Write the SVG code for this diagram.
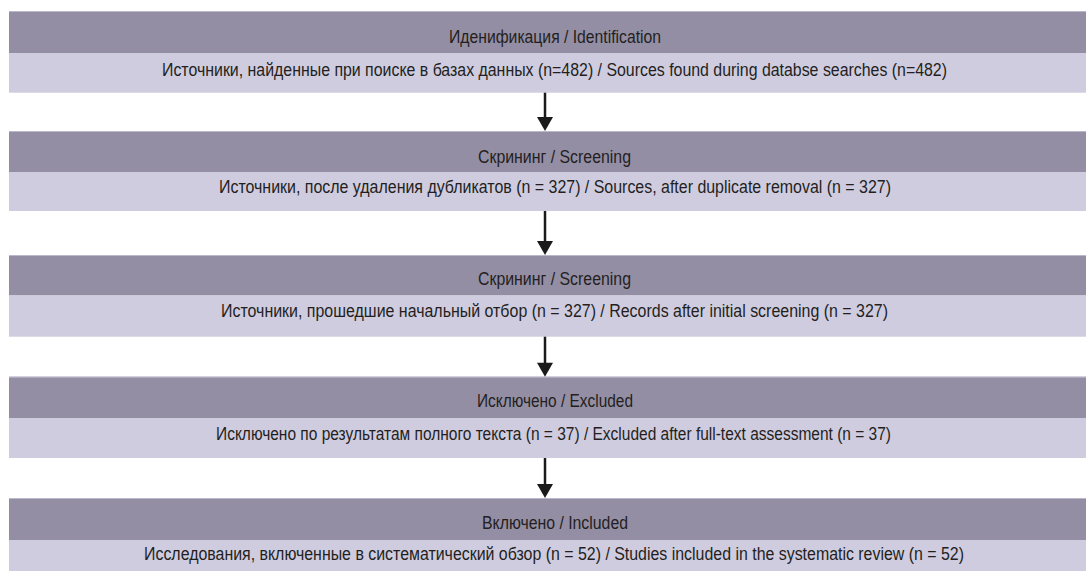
<svg xmlns="http://www.w3.org/2000/svg" width="1086" height="571" viewBox="0 0 1086 571">
<style>
.hd{fill:#948ea5}
.bd{fill:#d0cce0}
.edge{stroke:#bcb8cb;stroke-width:1}
text{font-family:"Liberation Sans",Arial,sans-serif;font-size:17.5px;fill:#231f20;text-anchor:middle}
.conn line{stroke:#1a1a1a;stroke-width:2.5}
.conn polygon{fill:#1a1a1a}
</style>
<rect width="1086" height="571" fill="#ffffff"/>
<g id="node1">
<rect class="hd" x="9" y="11" width="1077" height="42"/>
<line class="edge" x1="9" y1="11.5" x2="1086" y2="11.5"/>
<rect class="bd" x="9" y="53" width="1077" height="39.7"/>
<text x="555" y="42.5" textLength="212" lengthAdjust="spacingAndGlyphs">Иденификация / Identification</text>
<text x="554.5" y="76" textLength="785" lengthAdjust="spacingAndGlyphs">Источники, найденные при поиске в базах данных (n=482) / Sources found during databse searches (n=482)</text>
</g>
<g id="node2">
<rect class="hd" x="9" y="131" width="1077" height="41"/>
<line class="edge" x1="9" y1="131.5" x2="1086" y2="131.5"/>
<rect class="bd" x="9" y="172" width="1077" height="39"/>
<text x="554.5" y="162.5" textLength="153" lengthAdjust="spacingAndGlyphs">Скрининг / Screening</text>
<text x="555" y="193" textLength="672" lengthAdjust="spacingAndGlyphs">Источники, после удаления дубликатов (n = 327) / Sources, after duplicate removal (n = 327)</text>
</g>
<g id="node3">
<rect class="hd" x="9" y="255" width="1077" height="40.5"/>
<line class="edge" x1="9" y1="255.5" x2="1086" y2="255.5"/>
<rect class="bd" x="9" y="295.5" width="1077" height="41.2"/>
<text x="554.5" y="285" textLength="153" lengthAdjust="spacingAndGlyphs">Скрининг / Screening</text>
<text x="554.5" y="316.5" textLength="667" lengthAdjust="spacingAndGlyphs">Источники, прошедшие начальный отбор (n = 327) / Records after initial screening (n = 327)</text>
</g>
<g id="node4">
<rect class="hd" x="9" y="376.7" width="1077" height="41.3"/>
<line class="edge" x1="9" y1="377.2" x2="1086" y2="377.2"/>
<rect class="bd" x="9" y="418" width="1077" height="40"/>
<text x="555" y="407" textLength="156" lengthAdjust="spacingAndGlyphs">Исключено / Excluded</text>
<text x="553.5" y="439.5" textLength="675" lengthAdjust="spacingAndGlyphs">Исключено по результатам полного текста (n = 37) / Excluded after full-text assessment (n = 37)</text>
</g>
<g id="node5">
<rect class="hd" x="9" y="498" width="1077" height="42"/>
<line class="edge" x1="9" y1="498.5" x2="1086" y2="498.5"/>
<rect class="bd" x="9" y="540" width="1077" height="31"/>
<text x="555" y="528.5" textLength="146" lengthAdjust="spacingAndGlyphs">Включено / Included</text>
<text x="554" y="559.5" textLength="820" lengthAdjust="spacingAndGlyphs">Исследования, включенные в систематический обзор (n = 52) / Studies included in the systematic review (n = 52)</text>
</g>
<g id="connectors" class="conn">
<line x1="545" y1="92.7" x2="545" y2="119"/>
<polygon points="537,117 553,117 545,131"/>
<line x1="545" y1="211" x2="545" y2="243"/>
<polygon points="537,241 553,241 545,255"/>
<line x1="545" y1="336.7" x2="545" y2="365"/>
<polygon points="537,362.7 553,362.7 545,376.7"/>
<line x1="545" y1="458" x2="545" y2="486"/>
<polygon points="537,484 553,484 545,498"/>
</g>
</svg>
